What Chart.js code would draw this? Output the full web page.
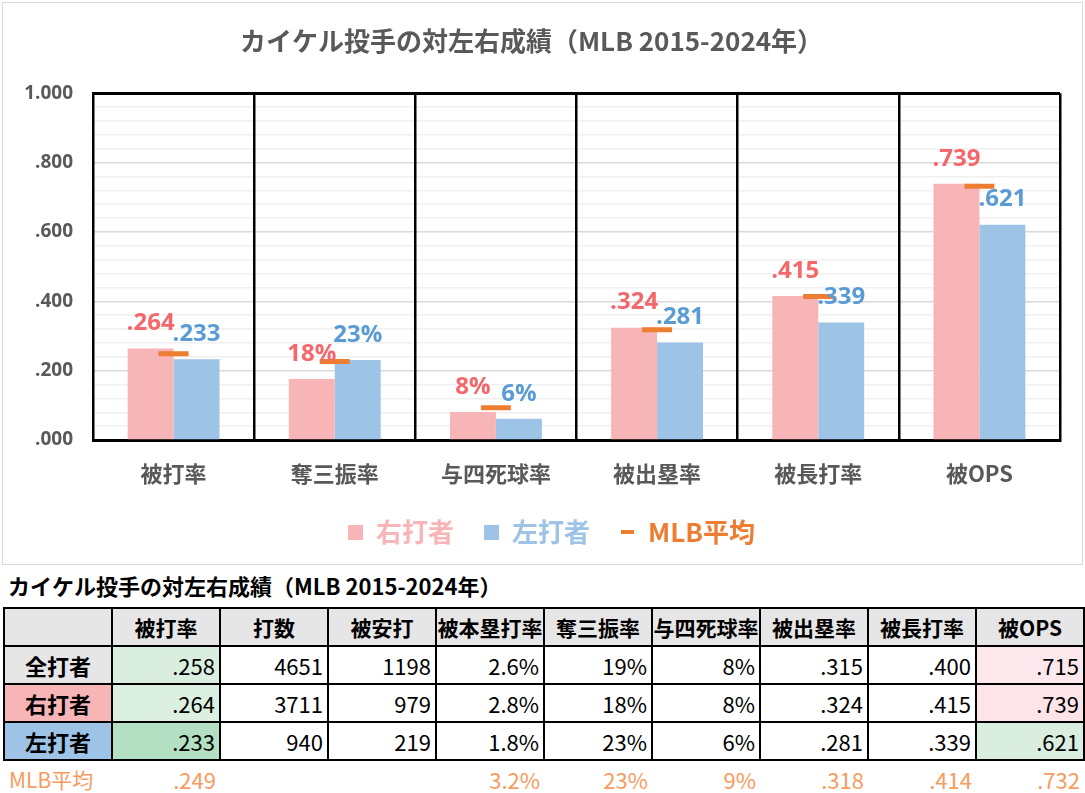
<!DOCTYPE html>
<html lang="ja">
<head>
<meta charset="utf-8">
<title>カイケル投手の対左右成績</title>
<script src="https://cdn.jsdelivr.net/npm/chart.js@4.4.1/dist/chart.umd.min.js"></script>
<style>
  html, body { margin: 0; padding: 0; background: #fff; }
  body { width: 1085px; height: 793px; position: relative; overflow: hidden; font-family: 'Noto Sans CJK JP', sans-serif; }
  #chartBox { position: absolute; left: 2px; top: 2px; width: 1079px; height: 561px; border: 1px solid #d9d9d9; }
  #tableTitle { position: absolute; left: 8px; top: 570px; font-size: 22px; font-weight: bold; color: #000; line-height: 30px; white-space: nowrap; }
  #statsTable { position: absolute; left: 3px; top: 607px; width: 1080px; border-collapse: collapse; table-layout: fixed; }
  #statsTable td { height: 36px; border: 2px solid #000; padding: 0 4px 0 0; font-size: 22px; line-height: 26px; text-align: right; color: #000; white-space: nowrap; overflow: hidden; }
  #statsTable tr.head td { text-align: center; font-weight: bold; font-size: 21px; background: #e7e6e6; padding: 0; }
  #statsTable td.rowName { text-align: center; font-weight: bold; font-size: 22px; padding: 0; }
  #statsTable tr.mlb td { border: none; color: #f79b5e; height: 36px; }
  #statsTable tr.mlb td.rowName { text-align: left; font-weight: normal; font-size: 21px; padding-left: 5px; }
</style>
</head>
<body>
<div id="chartBox"><canvas id="chart"></canvas></div>
<div id="tableTitle"></div>
<table id="statsTable"></table>
<script>
// chart data
const titleText = 'カイケル投手の対左右成績（MLB 2015-2024年）';
const categories = ['被打率', '奪三振率', '与四死球率', '被出塁率', '被長打率', '被OPS'];
const percentCats = ['奪三振率', '与四死球率'];
const rightBatters = [0.264, 0.176, 0.081, 0.324, 0.415, 0.739];
const leftBatters = [0.233, 0.231, 0.061, 0.281, 0.339, 0.621];
const mlbAverage = [0.249, 0.226, 0.093, 0.318, 0.414, 0.732];
const seriesNames = ['右打者', '左打者', 'MLB平均'];

// table data
const tableHead = ['', '被打率', '打数', '被安打', '被本塁打率', '奪三振率', '与四死球率', '被出塁率', '被長打率', '被OPS'];
const rowAll = ['全打者', '.258', '4651', '1198', '2.6%', '19%', '8%', '.315', '.400', '.715'];
const rowRight = ['右打者', '.264', '3711', '979', '2.8%', '18%', '8%', '.324', '.415', '.739'];
const rowLeft = ['左打者', '.233', '940', '219', '1.8%', '23%', '6%', '.281', '.339', '.621'];
const rowMlb = ['MLB平均', '.249', '', '', '3.2%', '23%', '9%', '.318', '.414', '.732'];

const pink = '#f8b5b8';
const blue = '#9dc3e6';
const orange = '#ed7d31';
const labelColors = ['#f4676b', '#5b9bd5'];
const gray = '#595959';

function fmtValue(v, cat) {
    if (percentCats.includes(cat)) return Math.round(v * 100) + '%';
    return '.' + String(Math.round(v * 1000)).padStart(3, '0');
}

function makeIcon(w, h, color) {
    const c = document.createElement('canvas');
    c.width = w; c.height = h;
    const g = c.getContext('2d');
    g.fillStyle = color;
    g.fillRect(0, 0, w, h);
    return c;
}
const legendIcons = [makeIcon(15, 15, pink), makeIcon(15, 15, blue), makeIcon(13, 4, orange)];
const legendColors = [pink, blue, orange];

// value labels above the bars
const valueLabels = {
    id: 'valueLabels',
    afterLayout(chart) {
        // legend sits a bit right of centre in the original
        chart.legend.left += 40;
    },
    afterDatasetsDraw(chart) {
        const ctx = chart.ctx;
        ctx.save();
        ctx.font = 'bold 24px "Open Sans", sans-serif';
        ctx.textAlign = 'center';
        ctx.textBaseline = 'middle';
        [0, 1].forEach(di => {
            const meta = chart.getDatasetMeta(di);
            ctx.fillStyle = labelColors[di];
            meta.data.forEach((bar, i) => {
                ctx.fillText(fmtValue(chart.data.datasets[di].data[i], categories[i]), bar.x, bar.y - 25);
            });
        });
        ctx.restore();
    }
};

new Chart(document.getElementById('chart'), {
    type: 'bar',
    data: {
        labels: categories,
        datasets: [
            { label: seriesNames[0], data: rightBatters, backgroundColor: pink, categoryPercentage: 0.57, barPercentage: 1.0, order: 1 },
            { label: seriesNames[1], data: leftBatters, backgroundColor: blue, categoryPercentage: 0.57, barPercentage: 1.0, order: 1 },
            { type: 'line', label: seriesNames[2], data: mlbAverage, showLine: false, pointStyle: 'line',
              pointRadius: 15, pointHoverRadius: 15, borderColor: orange, pointBorderWidth: 5, borderWidth: 5, order: 0 }
        ]
    },
    options: {
        responsive: true,
        maintainAspectRatio: false,
        animation: false,
        events: [],
        layout: { padding: { left: 0, right: 22, top: 0, bottom: 9 } },
        plugins: {
            tooltip: { enabled: false },
            title: {
                display: true,
                text: titleText,
                color: gray,
                font: { family: "'Noto Sans CJK JP', sans-serif", size: 26, weight: 'bold' },
                padding: { top: 23, bottom: 36 }
            },
            legend: {
                position: 'bottom',
                labels: {
                    usePointStyle: true,
                    boxWidth: 15,
                    boxHeight: 15,
                    padding: 30,
                    font: { family: "'Noto Sans CJK JP', sans-serif", size: 26, weight: 'bold' },
                    generateLabels: () => seriesNames.map((name, i) => ({
                        text: name,
                        fontColor: legendColors[i],
                        pointStyle: legendIcons[i],
                        fillStyle: legendColors[i],
                        strokeStyle: legendColors[i],
                        lineWidth: 0,
                        hidden: false,
                        datasetIndex: i
                    }))
                }
            }
        },
        scales: {
            x: {
                afterFit: s => { s.height = 49; },
                grid: { color: '#000', lineWidth: 2.5, drawTicks: false, offset: true, z: -1 },
                border: { color: '#000', width: 3 },
                ticks: {
                    color: gray,
                    padding: 20,
                    font: { family: "'Noto Sans CJK JP', sans-serif", size: 22, weight: 'bold' }
                }
            },
            y: {
                min: 0,
                max: 1,
                afterFit: s => { s.width = 90; },
                grid: {
                    z: -2,
                    drawTicks: false,
                    color: c => {
                        const v = Math.round(c.tick.value * 1000);
                        if (v === 1000) return '#000';
                        return v % 200 === 0 ? '#d9d9d9' : '#f0f0f0';
                    },
                    lineWidth: c => Math.round(c.tick.value * 1000) === 1000 ? 3 : 1.5
                },
                border: { color: '#000', width: 2 },
                ticks: {
                    stepSize: 0.04,
                    autoSkip: false,
                    padding: 20,
                    color: gray,
                    font: { family: "'Open Sans', sans-serif", size: 19, weight: 'bold' },
                    callback: value => {
                        const v = Math.round(value * 1000);
                        if (v % 200 !== 0) return '';
                        return v === 1000 ? '1.000' : '.' + String(v).padStart(3, '0');
                    }
                }
            }
        }
    },
    plugins: [valueLabels]
});

// table below the chart
document.getElementById('tableTitle').textContent = titleText;
const rowBg = { '全打者': '#e7e6e6', '右打者': pink, '左打者': blue };
const cellBg = {
    '全打者': { 1: '#d9eedf', 9: '#fce8ec' },
    '右打者': { 1: '#dcf0e2', 9: '#fce4e8' },
    '左打者': { 1: '#b3dfc2', 9: '#d9eedf' }
};
const table = document.getElementById('statsTable');
const cg = document.createElement('colgroup');
tableHead.forEach(() => { const col = document.createElement('col'); col.style.width = '108px'; cg.appendChild(col); });
table.appendChild(cg);
const headTr = document.createElement('tr');
headTr.className = 'head';
tableHead.forEach(h => { const td = document.createElement('td'); td.textContent = h; headTr.appendChild(td); });
table.appendChild(headTr);
[rowAll, rowRight, rowLeft, rowMlb].forEach(row => {
    const tr = document.createElement('tr');
    if (row === rowMlb) tr.className = 'mlb';
    row.forEach((val, i) => {
        const td = document.createElement('td');
        td.textContent = val;
        if (i === 0) {
            td.className = 'rowName';
            if (rowBg[val]) td.style.background = rowBg[val];
        } else if (cellBg[row[0]] && cellBg[row[0]][i]) {
            td.style.background = cellBg[row[0]][i];
        }
        tr.appendChild(td);
    });
    table.appendChild(tr);
});
</script>
</body>
</html>
